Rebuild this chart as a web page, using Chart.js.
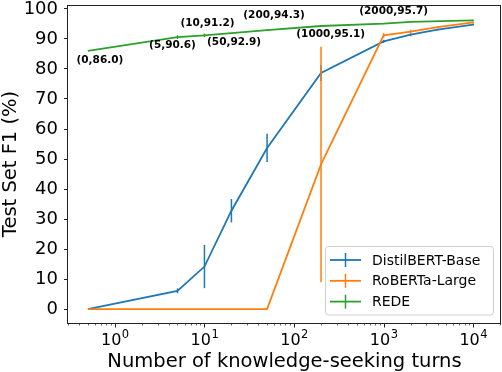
<!DOCTYPE html>
<html>
<head>
<meta charset="utf-8">
<title>Test Set F1 vs knowledge-seeking turns</title>
<script src="https://cdn.jsdelivr.net/npm/chart.js@4"></script>
<style>
html,body{margin:0;padding:0;background:#fff;}
canvas{display:block;}
</style>
</head>
<body>
<canvas id="chart" width="502" height="372"></canvas>
<script>
// turns of knowledge seeking; 0 turns is drawn at 0.5 on the log axis
const distilTurns = [0, 5, 10, 20, 50, 200, 1000, 2000, 4000, 10000];
const distilF1    = [0, 6.1, 14.2, 32.8, 53.7, 78.7, 89.2, 91.4, 93.1, 94.8];
const distilErr   = [0, 0.8, 7.2, 3.9, 4.7, 2.7, 0.5, 0.5, 0.3, 0.3];

const robertaTurns = [0, 5, 10, 20, 50, 200, 1000, 2000, 4000, 10000];
const robertaF1    = [0, 0, 0, 0, 0, 48.2, 91.2, 92.4, 93.9, 95.5];
const robertaErr   = [0, 0, 0, 0, 0, 39.2, 0.8, 0.7, 0.3, 0.3];

const redeTurns = [0, 5, 10, 50, 200, 1000, 2000, 10000];
const redeF1    = [86.0, 90.6, 91.2, 92.9, 94.3, 95.1, 95.7, 96.2];
const redeErr   = [0, 0.6, 0.6, 0.3, 0.2, 0.2, 0.2, 0.2];

const yTicks = [0, 10, 20, 30, 40, 50, 60, 70, 80, 90, 100];
const xDecades = [0, 1, 2, 3, 4];   // labels 10^n

// pixel offsets of the REDE value labels (first 7 points are labelled)
const redeLabelOffset = [[12, 9], [-5, 8], [3, -12], [-33, 12], [-47, -11], [-53, 11], [-17, -11]];

const ZERO_AT = 0.5;
const toX = t => t === 0 ? ZERO_AT : t;
const pts = (turns, f1) => turns.map((t, i) => ({x: toX(t), y: f1[i]}));

const series = [
    {label: 'DistilBERT-Base', color: '#1f77b4', turns: distilTurns, f1: distilF1, err: distilErr},
    {label: 'RoBERTa-Large', color: '#ff7f0e', turns: robertaTurns, f1: robertaF1, err: robertaErr},
    {label: 'REDE', color: '#2ca02c', turns: redeTurns, f1: redeF1, err: redeErr}
];

const FONT = '"DejaVu Sans", "Liberation Sans", sans-serif';

const extras = {
    id: 'extras',
    afterDatasetDraw(chart, args) {
        const s = series[args.index];
        const {x, y} = chart.scales;
        const ctx = chart.ctx;
        ctx.save();
        ctx.strokeStyle = s.color;
        ctx.lineWidth = 1.5;
        s.turns.forEach((t, i) => {
            const e = s.err[i];
            if (!e) return;
            const px = x.getPixelForValue(toX(t));
            ctx.beginPath();
            ctx.moveTo(px, y.getPixelForValue(s.f1[i] - e));
            ctx.lineTo(px, y.getPixelForValue(s.f1[i] + e));
            ctx.stroke();
        });
        ctx.restore();
    },
    afterDraw(chart) {
        const {ctx, chartArea: a} = chart;
        const {x, y} = chart.scales;
        ctx.save();

        // frame
        ctx.strokeStyle = '#222';
        ctx.lineWidth = 1;
        ctx.strokeRect(a.left - 0.5, a.top + 0.5, a.right - a.left, a.bottom - a.top);

        // x ticks, major and minor
        for (let e = -1; e <= 4; e++) {
            for (let k = 1; k <= 9; k++) {
                const v = k * Math.pow(10, e);
                if (v < x.min || v > x.max) continue;
                const px = Math.round(x.getPixelForValue(v)) + 0.5;
                ctx.lineWidth = k === 1 ? 1 : 0.7;
                ctx.beginPath();
                ctx.moveTo(px, a.bottom);
                ctx.lineTo(px, a.bottom + (k === 1 ? 4.5 : 2.5));
                ctx.stroke();
            }
        }

        // x tick labels 10^n
        ctx.fillStyle = '#000';
        ctx.textBaseline = 'alphabetic';
        ctx.textAlign = 'left';
        xDecades.forEach(n => {
            const px = x.getPixelForValue(Math.pow(10, n));
            ctx.font = '16px ' + FONT;
            const wb = ctx.measureText('10').width;
            ctx.font = '11.5px ' + FONT;
            const ws = ctx.measureText(String(n)).width;
            const left = px - (wb + ws) / 2;
            ctx.font = '16px ' + FONT;
            ctx.fillText('10', left, 345);
            ctx.font = '11.5px ' + FONT;
            ctx.fillText(String(n), left + wb + 0.5, 338);
        });

        // axis titles
        ctx.font = '19.5px ' + FONT;
        ctx.textAlign = 'center';
        ctx.fillText('Number of knowledge-seeking turns', (a.left + a.right) / 2, 367);
        ctx.save();
        ctx.translate(16, (a.top + a.bottom) / 2);
        ctx.rotate(-Math.PI / 2);
        ctx.fillText('Test Set F1 (%)', 0, 0);
        ctx.restore();

        // REDE value labels
        ctx.font = 'bold 10.5px ' + FONT;
        ctx.textBaseline = 'middle';
        redeLabelOffset.forEach((off, i) => {
            const px = x.getPixelForValue(toX(redeTurns[i]));
            const py = y.getPixelForValue(redeF1[i]);
            ctx.fillText('(' + redeTurns[i] + ',' + redeF1[i].toFixed(1) + ')', px + off[0], py + off[1]);
        });

        // legend
        const lx = 325.5, ly = 246.5, lw = 168, lh = 68.5, r = 3;
        ctx.beginPath();
        ctx.moveTo(lx + r, ly);
        ctx.arcTo(lx + lw, ly, lx + lw, ly + lh, r);
        ctx.arcTo(lx + lw, ly + lh, lx, ly + lh, r);
        ctx.arcTo(lx, ly + lh, lx, ly, r);
        ctx.arcTo(lx, ly, lx + lw, ly, r);
        ctx.closePath();
        ctx.fillStyle = 'rgba(255,255,255,0.85)';
        ctx.fill();
        ctx.strokeStyle = '#d0d0d0';
        ctx.lineWidth = 1;
        ctx.stroke();
        ctx.font = '14px ' + FONT;
        ctx.textAlign = 'left';
        ctx.textBaseline = 'middle';
        series.forEach((s, i) => {
            const cy = 260 + i * 20.8;
            ctx.strokeStyle = s.color;
            ctx.lineWidth = 1.8;
            ctx.beginPath();
            ctx.moveTo(330, cy);
            ctx.lineTo(361, cy);
            ctx.stroke();
            ctx.lineWidth = 1.5;
            ctx.beginPath();
            ctx.moveTo(345.5, cy - 7);
            ctx.lineTo(345.5, cy + 7);
            ctx.stroke();
            ctx.fillStyle = '#000';
            ctx.fillText(s.label, 372, cy + 1);
        });
        ctx.restore();
    }
};

new Chart(document.getElementById('chart'), {
    type: 'line',
    data: {
        datasets: series.map((s, i) => ({
            label: s.label,
            data: pts(s.turns, s.f1),
            borderColor: s.color,
            backgroundColor: s.color,
            borderWidth: 1.8,
            pointRadius: 0,
            tension: 0,
            fill: false,
            order: 3 - i
        }))
    },
    options: {
        responsive: false,
        animation: false,
        devicePixelRatio: 1,
        layout: {padding: {top: 5, right: 1, left: 0, bottom: 0}},
        plugins: {legend: {display: false}, tooltip: {enabled: false}},
        scales: {
            x: {
                type: 'logarithmic',
                min: 0.316,
                max: 20400,
                grid: {display: false},
                border: {display: false},
                ticks: {display: false},
                afterFit(scale) {
                    scale.height = 49;
                    scale.paddingLeft = 0;
                    scale.paddingRight = 0;
                }
            },
            y: {
                type: 'linear',
                min: -4.6,
                max: 101.3,
                grid: {drawOnChartArea: false, tickLength: 4, color: '#222'},
                border: {display: false},
                ticks: {
                    stepSize: 10,
                    includeBounds: false,
                    padding: 6,
                    color: '#000',
                    font: {family: FONT, size: 18},
                    callback: v => yTicks.includes(v) ? String(v) : null
                },
                afterFit(scale) {
                    scale.width = 68;
                    scale.paddingTop = 0;
                    scale.paddingBottom = 0;
                }
            }
        }
    },
    plugins: [extras]
});
</script>
</body>
</html>
